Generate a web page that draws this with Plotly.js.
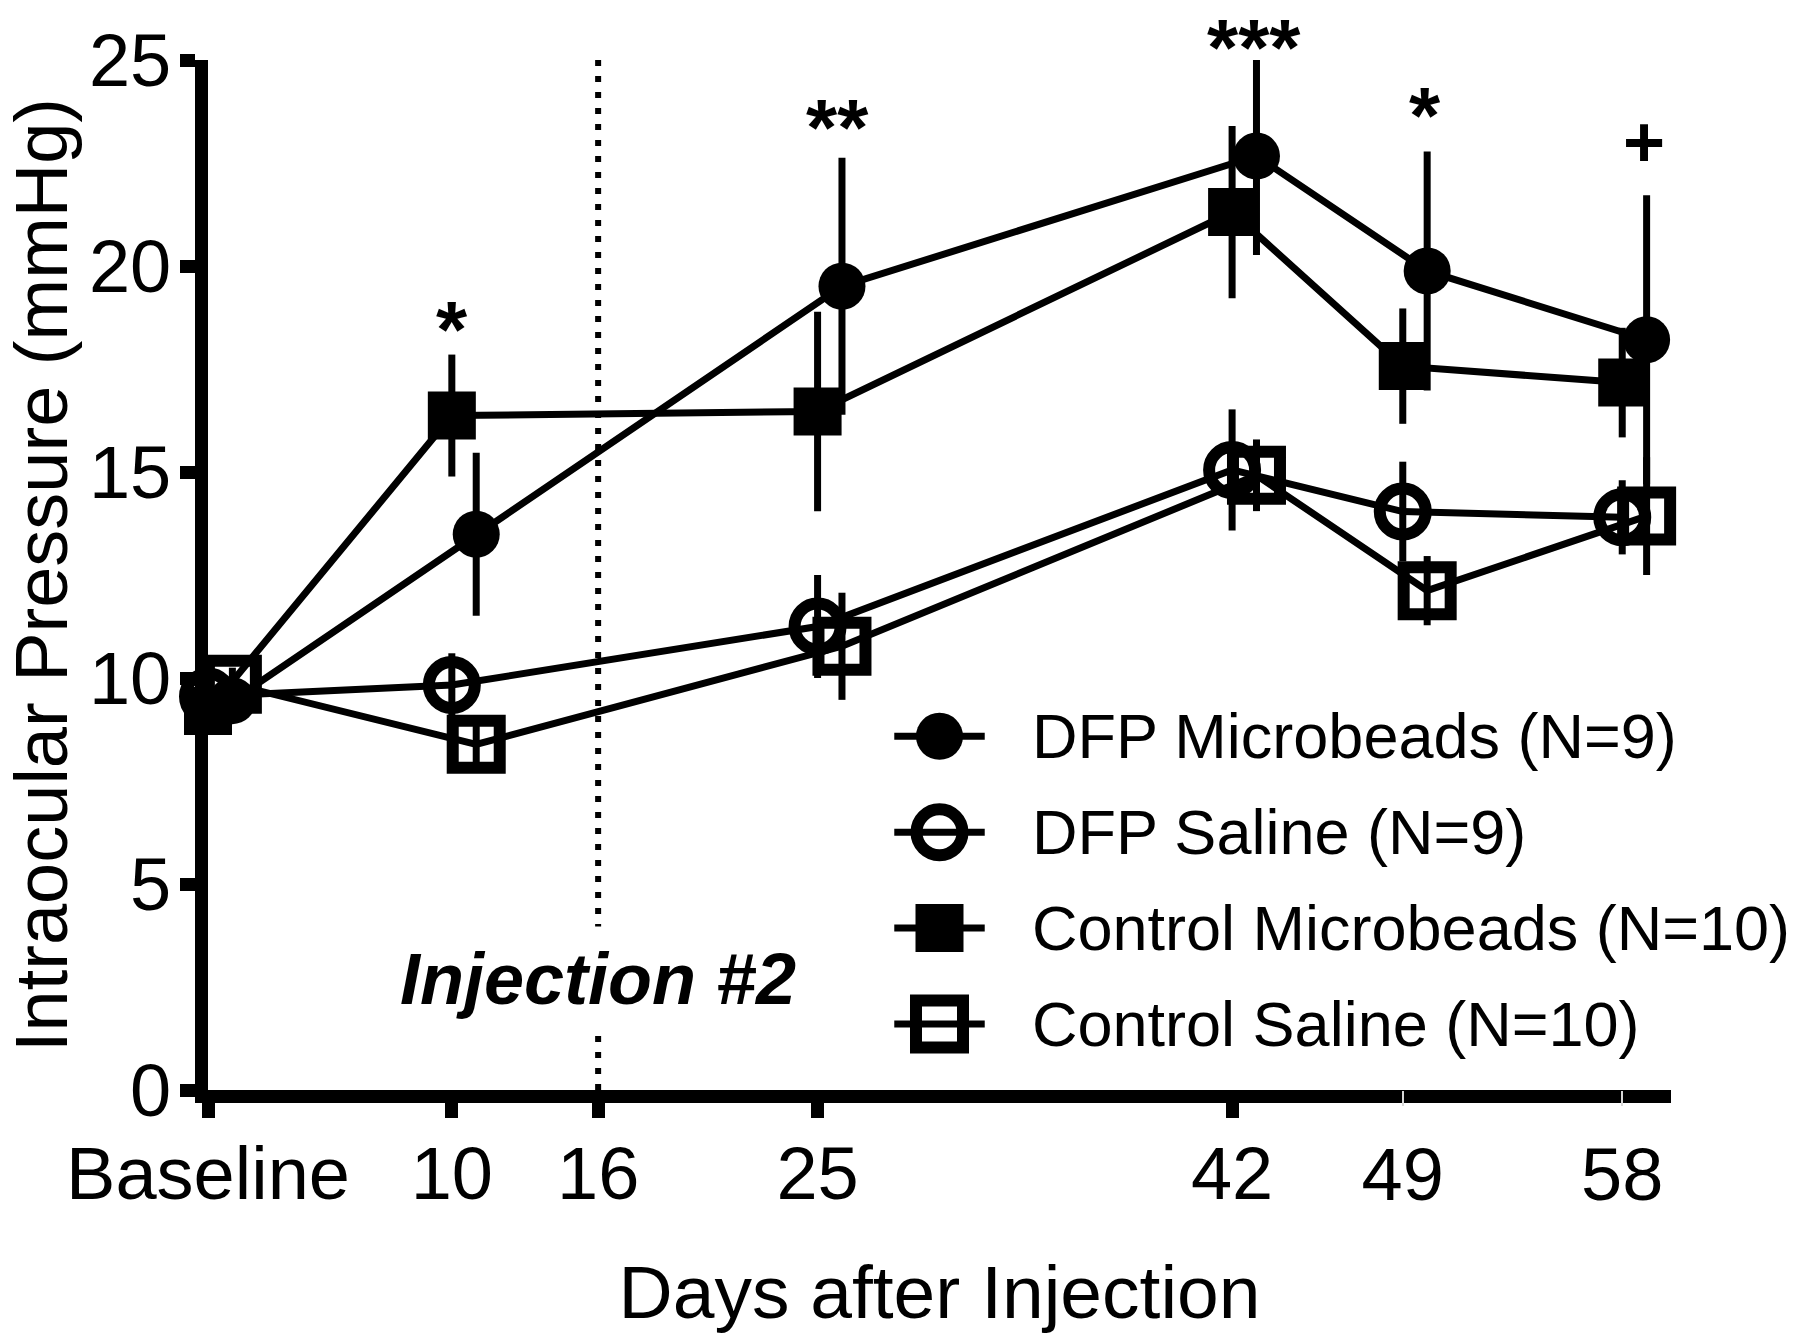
<!DOCTYPE html>
<html>
<head>
<meta charset="utf-8">
<script src="https://cdn.plot.ly/plotly-3.0.1.min.js"></script>
<style>html,body{margin:0;padding:0;background:#fff;}</style>
</head>
<body>
<div id="chart" style="width:1800px;height:1339px;"></div>
<script>
// ---------------- data ----------------
const days = [0, 10, 25, 42, 49, 58];

const seriesNames = [
  'DFP Microbeads (N=9)',
  'DFP Saline (N=9)',
  'Control Microbeads (N=10)',
  'Control Saline (N=10)'
];

const dfpMicrobeads        = [9.45, 13.49, 19.51, 22.67, 19.88, 18.21];
const dfpMicrobeadsSem     = [0.4, 1.98, 3.12, 2.40, 2.90, 3.51];
const dfpSaline            = [9.55, 9.83, 11.25, 15.05, 14.04, 13.90];
const dfpSalineSem         = [0.4, 0.77, 1.25, 1.47, 1.21, 0.90];
const controlMicrobeads    = [9.2, 16.37, 16.47, 21.31, 17.57, 17.17];
const controlMicrobeadsSem = [0.5, 1.48, 2.42, 2.09, 1.40, 1.33];
const controlSaline        = [9.85, 8.39, 10.77, 14.92, 12.12, 13.93];
const controlSalineSem     = [0.4, 0.45, 1.30, 0.87, 0.84, 1.43];

const tickDays   = [0, 10, 16, 25, 42, 49, 58];
const tickLabels = ['Baseline', '10', '16', '25', '42', '49', '58'];
const faintTickDays = [49, 58];
const yTicks = [0, 5, 10, 15, 20, 25];
const yMax = 25;
const xMax = 60;

const injectionDay = 16;
const injectionLabel = 'Injection #2';
const injectionLabelY = 2.7;

const sigX     = [10, 25.8, 42.9, 49.9, 58.9];
const sigMarks = ['*', '**', '***', '*', '+'];
const sigY     = [18.7, 23.6, 25.55, 23.9, 23.0];

// ---------------- styles ----------------
const FONT = 'Liberation Sans, Arial, Helvetica, sans-serif';
const seriesValues = [dfpMicrobeads, dfpSaline, controlMicrobeads, controlSaline];
const seriesSem = [dfpMicrobeadsSem, dfpSalineSem, controlMicrobeadsSem, controlSalineSem];
const seriesJitter = [1.0, 0, 0, 1.0];           // horizontal nudge (days) separating overlapping groups
const seriesSymbol = ['circle', 'circle-open', 'square', 'square-open'];
const seriesSize = [47, 46, 48, 47];
const seriesLineW = [0, 12, 0, 12];
const LINE_W = 7;
const AX_W = 13;

const traces = [];
seriesValues.forEach((vals, i) => {
  traces.push({
    type: 'scatter', mode: 'lines+markers',
    x: days.map(d => d + seriesJitter[i]),
    y: vals,
    name: seriesNames[i],
    showlegend: false,
    cliponaxis: false,
    line: {color: '#000', width: LINE_W},
    marker: {symbol: seriesSymbol[i], size: seriesSize[i], color: '#000', opacity: 1,
             line: {color: '#000', width: seriesLineW[i]}},
    error_y: {type: 'data', array: seriesSem[i], visible: true,
              color: '#000', thickness: LINE_W, width: 0},
    xaxis: 'x', yaxis: 'y'
  });
});

// empty trace that carries the secondary (faint-tick) x axis
traces.push({type: 'scatter', x: [], y: [], xaxis: 'x2', yaxis: 'y', showlegend: false, hoverinfo: 'skip'});

// custom legend: symbol + line on an auxiliary axis pair, one row per series
seriesNames.forEach((nm, i) => {
  traces.push({
    type: 'scatter', mode: 'lines+markers',
    x: [-1, 0, 1], y: [i, i, i],
    showlegend: false, hoverinfo: 'skip', cliponaxis: false,
    line: {color: '#000', width: LINE_W},
    marker: {symbol: seriesSymbol[i], size: [0, seriesSize[i], 0], color: '#000', opacity: 1,
             line: {color: '#000', width: seriesLineW[i]}},
    xaxis: 'x3', yaxis: 'y3'
  });
});

const majorTickDays = tickDays.filter(d => !faintTickDays.includes(d));
const majorTickLabels = tickLabels.filter((t, k) => !faintTickDays.includes(tickDays[k]));
const faintTickLabels = tickLabels.filter((t, k) => faintTickDays.includes(tickDays[k]));

const annotations = [];
sigMarks.forEach((m, k) => {
  const isStar = m.indexOf('*') >= 0;
  annotations.push({
    xref: 'x', yref: 'paper', x: sigX[k], y: sigY[k] / yMax, text: '<b>' + m + '</b>',
    showarrow: false, xanchor: 'center', yanchor: 'middle',
    yshift: isStar ? -10 : 0,
    font: {family: FONT, size: isStar ? 80 : 72, color: '#000'}
  });
});
annotations.push({
  xref: 'x', yref: 'y', x: injectionDay, y: injectionLabelY,
  text: '<b><i>' + injectionLabel + '</i></b>', showarrow: false,
  xanchor: 'center', yanchor: 'middle',
  bgcolor: '#ffffff', borderpad: 12,
  font: {family: FONT, size: 72, color: '#000'}
});
seriesNames.forEach((nm, i) => {
  annotations.push({
    xref: 'x3', yref: 'y3', x: 1, y: i, text: nm, showarrow: false,
    xanchor: 'left', yanchor: 'middle', xshift: 45,
    font: {family: FONT, size: 63, color: '#000'}
  });
});

const axisCommon = {
  showgrid: false, zeroline: false, showline: true, linecolor: '#000', linewidth: AX_W,
  ticks: 'outside', ticklen: 15, tickwidth: AX_W, tickcolor: '#000',
  tickfont: {family: FONT, size: 74, color: '#000'}
};

const layout = {
  width: 1800, height: 1339,
  paper_bgcolor: '#fff', plot_bgcolor: '#fff',
  margin: {l: 208, r: 129, t: 60, b: 249, pad: 0},
  showlegend: false,
  font: {family: FONT, color: '#000'},
  xaxis: Object.assign({}, axisCommon, {
    range: [0, xMax], tickmode: 'array', tickvals: majorTickDays, ticktext: majorTickLabels,
    ticklabelstandoff: -8,
    title: {text: 'Days after Injection', font: {family: FONT, size: 75, color: '#000'}, standoff: 57},
    anchor: 'y'
  }),
  xaxis2: {
    overlaying: 'x', anchor: 'y', side: 'bottom', range: [0, xMax],
    tickmode: 'array', tickvals: faintTickDays, ticktext: faintTickLabels,
    ticks: 'outside', ticklen: 15, tickwidth: 1.5, tickcolor: '#d8d8d8',
    ticklabelstandoff: 5,
    showline: false, showgrid: false, zeroline: false,
    tickfont: {family: FONT, size: 74, color: '#000'}
  },
  yaxis: Object.assign({}, axisCommon, {
    range: [0, yMax], tickmode: 'array', tickvals: yTicks,
    ticklabelstandoff: -6,
    title: {text: 'Intraocular Pressure (mmHg)', font: {family: FONT, size: 74, color: '#000'}, standoff: 65},
    anchor: 'x'
  }),
  xaxis3: {domain: [0.469, 0.531], range: [-1, 1], visible: false, fixedrange: true, anchor: 'y3'},
  yaxis3: {domain: [0.0175, 0.390], range: [3.5, -0.5], visible: false, fixedrange: true, anchor: 'x3'},
  shapes: [{
    type: 'line', xref: 'x', yref: 'y', x0: injectionDay, x1: injectionDay, y0: 0, y1: yMax,
    line: {color: '#000', width: 6, dash: '6px,10px'}, layer: 'below'
  }],
  annotations: annotations
};

Plotly.newPlot('chart', traces, layout, {displayModeBar: false, staticPlot: true});
</script>
</body>
</html>
